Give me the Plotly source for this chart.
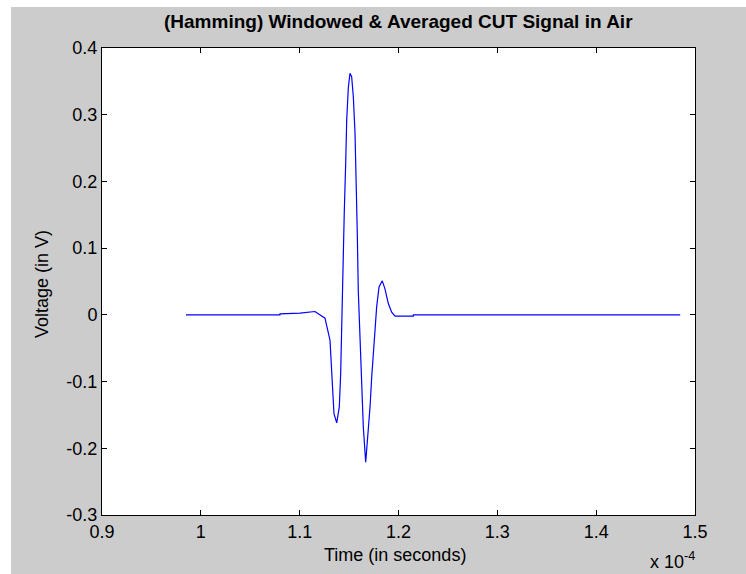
import plotly.graph_objects as go

# Time in units of 1e-4 s, voltage in V
time_e4 = [0.985, 1.080, 1.0801, 1.1003, 1.1155, 1.1256, 1.1307, 1.1324, 1.1347, 1.1375,
           1.1401, 1.1415, 1.1425, 1.1435, 1.1441, 1.1451, 1.1466, 1.1476, 1.1492, 1.1509,
           1.1526, 1.1543, 1.1560, 1.1573, 1.1583, 1.1593, 1.1611, 1.1628, 1.1644, 1.1668,
           1.1694, 1.1712, 1.1729, 1.1755, 1.1779, 1.1803, 1.1836, 1.1863, 1.1897, 1.1931,
           1.1965, 1.215, 1.2151, 1.485]
voltage = [0.0, 0.0, 0.0015, 0.0025, 0.005, -0.005, -0.038, -0.088, -0.148, -0.162,
           -0.138, -0.088, -0.018, 0.062, 0.112, 0.152, 0.229, 0.292, 0.340, 0.362,
           0.357, 0.327, 0.273, 0.205, 0.122, 0.037, -0.043, -0.113, -0.168, -0.221,
           -0.178, -0.138, -0.093, -0.043, 0.012, 0.042, 0.051, 0.039, 0.017, 0.004,
           -0.002, -0.002, 0.0, 0.0]

x_ticks = [0.9, 1.0, 1.1, 1.2, 1.3, 1.4, 1.5]
x_labels = ["0.9", "1", "1.1", "1.2", "1.3", "1.4", "1.5"]
y_ticks = [-0.3, -0.2, -0.1, 0.0, 0.1, 0.2, 0.3, 0.4]
y_labels = ["-0.3", "-0.2", "-0.1", "0", "0.1", "0.2", "0.3", "0.4"]

FONT = "Liberation Sans Narrow, Arial Narrow, Liberation Sans, Arial, sans-serif"

fig = go.Figure()
fig.add_trace(go.Scatter(x=time_e4, y=voltage, mode="lines",
                         line=dict(color="#0000ff", width=1.2), showlegend=False))

axis_common = dict(showline=True, linecolor="black", linewidth=1, mirror="ticks",
                   ticks="inside", ticklen=5, tickcolor="black", showgrid=False,
                   zeroline=False, tickfont=dict(family=FONT, size=18, color="black"))

fig.update_xaxes(range=[0.9, 1.5], tickvals=x_ticks, ticktext=x_labels, **axis_common)
fig.update_yaxes(range=[-0.3, 0.4], tickvals=y_ticks, ticktext=y_labels, **axis_common)

fig.update_layout(
    width=746, height=574,
    margin=dict(l=102, r=51, t=48, b=59),
    paper_bgcolor="white", plot_bgcolor="white",
    font=dict(family=FONT, size=18, color="black"),
)

W, H = 593.0, 467.0
# gray figure background (MATLAB style)
fig.add_shape(type="rect", xref="paper", yref="paper", layer="below",
              x0=(11 - 102) / W, x1=(746 - 102) / W, y0=(515 - 574) / H, y1=(515 - 7) / H,
              fillcolor="#cccccc", line=dict(width=0))
fig.add_shape(type="rect", xref="paper", yref="paper", layer="below",
              x0=0, x1=1, y0=0, y1=1, fillcolor="white", line=dict(width=0))

fig.add_annotation(text="<b>(Hamming) Windowed &amp; Averaged CUT Signal in Air</b>",
                   xref="paper", yref="paper", x=(398 - 102) / W, y=(515 - 21) / H,
                   xanchor="center", yanchor="middle", showarrow=False,
                   font=dict(family=FONT, size=19, color="black"))
fig.add_annotation(text="Time (in seconds)", xref="paper", yref="paper",
                   x=(395 - 102) / W, y=(515 - 555) / H, xanchor="center", yanchor="middle",
                   showarrow=False, font=dict(family=FONT, size=18, color="black"))
fig.add_annotation(text="Voltage (in V)", xref="paper", yref="paper",
                   x=(42 - 102) / W, y=(515 - 284) / H, xanchor="center", yanchor="middle",
                   textangle=-90, showarrow=False, font=dict(family=FONT, size=18, color="black"))
fig.add_annotation(text="x 10<sup>-4</sup>", xref="paper", yref="paper",
                   x=(697 - 102) / W, y=(515 - 560) / H, xanchor="right", yanchor="middle",
                   showarrow=False, font=dict(family=FONT, size=18, color="black"))

fig.write_html("out.html")
